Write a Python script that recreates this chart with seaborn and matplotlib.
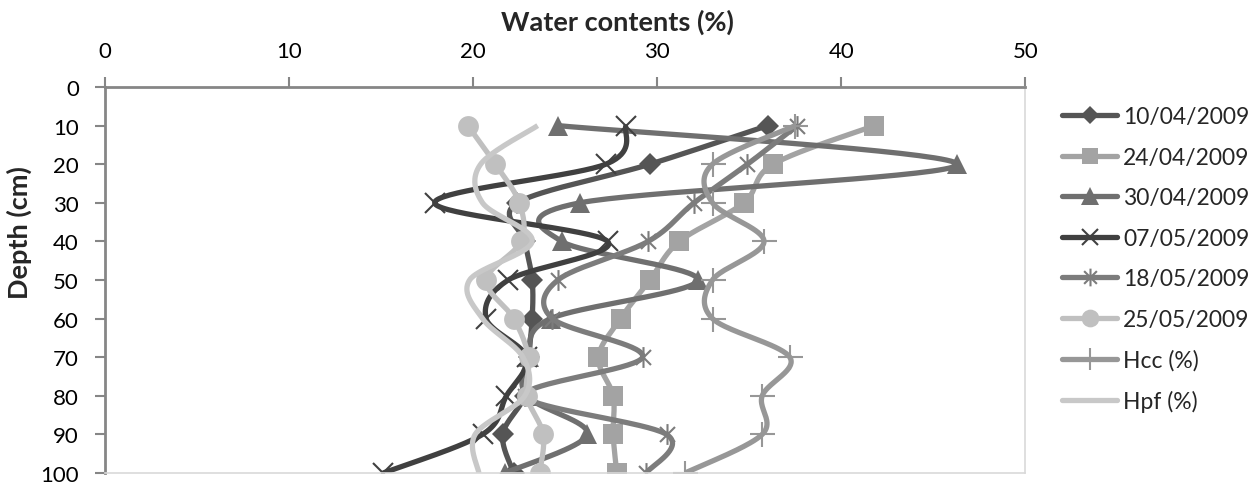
import numpy as np
import matplotlib
matplotlib.use("Agg")
import matplotlib.pyplot as plt
from matplotlib.lines import Line2D
from matplotlib.path import Path
import seaborn as sns

# ---------------- data ----------------
depth = [10, 20, 30, 40, 50, 60, 70, 80, 90, 100]
s_1004 = [36.0, 29.6, 22.4, 22.8, 23.2, 23.2, 23.0, 22.8, 21.6, 22.2]
s_2404 = [41.8, 36.3, 34.7, 31.2, 29.6, 28.0, 26.8, 27.6, 27.6, 27.8]
s_3004 = [24.6, 46.3, 25.8, 24.8, 32.2, 24.2, 23.0, 22.9, 26.2, 21.7]
s_0705 = [28.3, 27.2, 17.9, 27.3, 21.9, 20.7, 22.9, 21.8, 20.5, 15.1]
s_1805 = [37.6, 34.9, 32.0, 29.5, 24.6, 24.3, 29.2, 22.8, 30.5, 29.4]
s_2505 = [19.7, 21.2, 22.5, 22.6, 20.7, 22.2, 23.0, 22.9, 23.8, 23.6]
s_hcc = [37.5, 33.0, 33.0, 35.8, 33.0, 33.0, 37.2, 35.7, 35.7, 31.5]
s_hpf = [23.5, 20.4, 20.5, 23.2, 19.8, 20.5, 22.7, 22.8, 20.1, 20.3]

labels = ["10/04/2009", "24/04/2009", "30/04/2009", "07/05/2009",
          "18/05/2009", "25/05/2009", "Hcc (%)", "Hpf (%)"]
x_ticks = [0, 10, 20, 30, 40, 50]
y_ticks = [0, 10, 20, 30, 40, 50, 60, 70, 80, 90, 100]

# ---------------- style ----------------
sns.set_theme(style="white")
plt.rcParams["font.family"] = ["Lato", "DejaVu Sans"]

asterisk = Path([(0, -1), (0, 1), (-0.72, -0.72), (0.72, 0.72), (-0.72, 0.72), (0.72, -0.72)],
                [Path.MOVETO, Path.LINETO, Path.MOVETO, Path.LINETO, Path.MOVETO, Path.LINETO])

styles = [
    dict(color="#555555", marker="D", ms=11, mew=0),
    dict(color="#a3a3a3", marker="s", ms=14, mew=0),
    dict(color="#6f6f6f", marker="^", ms=15, mew=0),
    dict(color="#404040", marker="x", ms=14, mew=1.5),
    dict(color="#7c7c7c", marker=asterisk, ms=15, mew=1.5),
    dict(color="#c0c0c0", marker="o", ms=15, mew=0),
    dict(color="#979797", marker="+", ms=18, mew=1.5),
    dict(color="#c8c8c8", marker=None, ms=0, mew=0),
]
series = [s_1004, s_2404, s_3004, s_0705, s_1805, s_2505, s_hcc, s_hpf]


def smooth(x, y, n=40):
    P = np.column_stack([x, y]).astype(float)
    E = np.vstack([P[0], P, P[-1]])
    pts = []
    for i in range(len(P) - 1):
        p0, p1, p2, p3 = E[i], E[i + 1], E[i + 2], E[i + 3]
        c1 = p1 + (p2 - p0) / 6.0
        c2 = p2 - (p3 - p1) / 6.0
        t = np.linspace(0, 1, n)[:, None]
        b = ((1 - t) ** 3) * p1 + 3 * ((1 - t) ** 2) * t * c1 + 3 * (1 - t) * t ** 2 * c2 + t ** 3 * p2
        pts.append(b if i == 0 else b[1:])
    B = np.vstack(pts)
    return B[:, 0], B[:, 1]


W, H = 1260, 485
fig = plt.figure(figsize=(W / 100, H / 100), dpi=100)
ax_l, ax_r, ax_t, ax_b = 105.3, 1025.3, 88, 474
ax = fig.add_axes([ax_l / W, 1 - ax_b / H, (ax_r - ax_l) / W, (ax_b - ax_t) / H])

LW = 3.8
handles = []
for vals, st, lab in zip(series, styles, labels):
    xs, ys = smooth(vals, depth)
    sns.lineplot(x=xs, y=ys, sort=False, estimator=None, color=st["color"],
                 linewidth=LW, ax=ax, legend=False, solid_capstyle="butt")
    if st["marker"] is not None:
        ax.plot(vals, depth, linestyle="none", marker=st["marker"], markersize=st["ms"],
                color=st["color"], markeredgecolor=st["color"], markeredgewidth=st["mew"])
    handles.append(Line2D([0], [0], color=st["color"], linewidth=LW,
                          marker=st["marker"], markersize=st["ms"] * 0.85 if st["marker"] else 0,
                          markeredgecolor=st["color"], markeredgewidth=st["mew"]))

ax.set_xlim(0, 50)
ax.set_ylim(100, 0)
ax.set_xticks(x_ticks)
ax.set_yticks(y_ticks)
ax.xaxis.tick_top()
ax.xaxis.set_label_position("top")
ax.tick_params(axis="x", which="both", top=True, bottom=False, direction="out", length=7,
               width=1.5, color="#868686", labelsize=16, pad=12, labelcolor="black")
ax.tick_params(axis="y", which="both", left=True, direction="out", length=7,
               width=1.5, color="#868686", labelsize=16, pad=12, labelcolor="black")
ax.set_xlabel("Water contents (%)", fontsize=19.5, fontweight="bold", va="center")
ax.set_ylabel("Depth (cm)", fontsize=19.5, fontweight="bold", va="center")
axw, axh = ax_r - ax_l, ax_b - ax_t
ax.xaxis.set_label_coords((617 - ax_l) / axw, (ax_b - 22) / axh)
ax.yaxis.set_label_coords((19 - ax_l) / axw, (ax_b - 233) / axh)

for side in ["top", "left"]:
    ax.spines[side].set_color("#868686")
    ax.spines[side].set_linewidth(2)
for side in ["right", "bottom"]:
    ax.spines[side].set_color("#d9d9d9")
    ax.spines[side].set_linewidth(1.2)

# legend: place so row centres sit at the reference rows (118 px .. 402 px from top)
fs = 16.5
first_y, last_y, text_x = 118, 402, 1123
ls = 0.6
anchor = [0.835, 0.80]
for _ in range(3):
    if fig.legends:
        fig.legends[0].remove()
    leg = fig.legend(handles, labels, loc="upper left", bbox_to_anchor=tuple(anchor),
                     frameon=False, fontsize=fs, handlelength=2.4, handletextpad=0.25,
                     labelspacing=ls, borderaxespad=0)
    fig.canvas.draw()
    r = fig.canvas.get_renderer()
    ext = [t.get_window_extent(r) for t in leg.get_texts()]
    c0 = (ext[0].y0 + ext[0].y1) / 2
    c7 = (ext[-1].y0 + ext[-1].y1) / 2
    pitch = (c0 - c7) / 7
    target_pitch = (last_y - first_y) / 7
    ls += (target_pitch - pitch) / (fs * 100 / 72)
    anchor[1] += ((H - first_y) - c0) / H
    anchor[0] += (text_x - ext[0].x0) / W

if fig.legends:
    fig.legends[0].remove()
leg = fig.legend(handles, labels, loc="upper left", bbox_to_anchor=tuple(anchor),
                 frameon=False, fontsize=fs, handlelength=2.4, handletextpad=0.25,
                 labelspacing=ls, borderaxespad=0)

fig.savefig("out.png", dpi=100)
